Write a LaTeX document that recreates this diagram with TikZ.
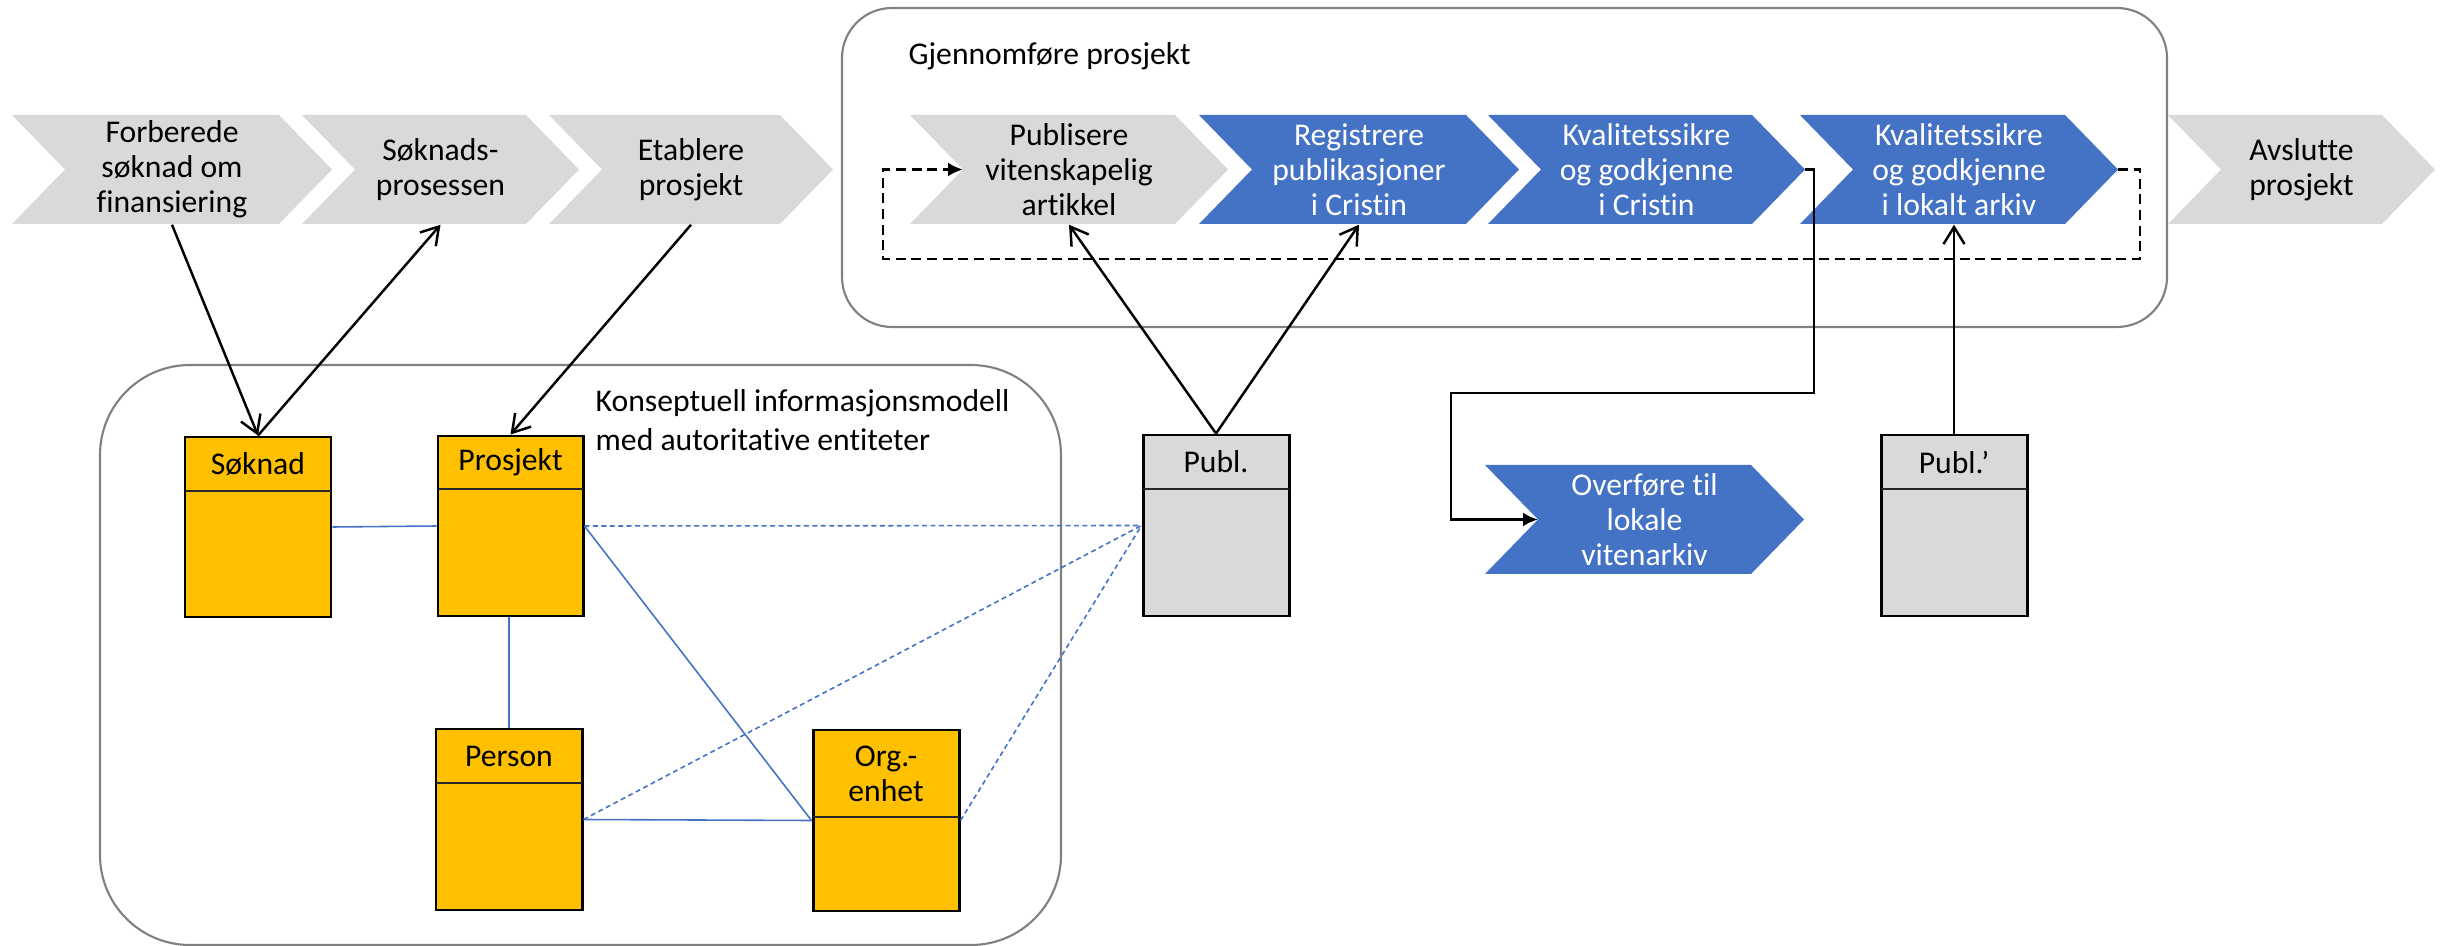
\documentclass[tikz,border=0pt]{standalone}
\usepackage{fontspec}
\setmainfont{Carlito}[Ligatures=NoCommon]
\usetikzlibrary{arrows.meta,fit,calc}
\definecolor{cgray}{HTML}{D9D9D9}
\definecolor{cblue}{HTML}{4472C4}
\definecolor{corange}{HTML}{FFC000}
\definecolor{cframe}{HTML}{808080}
\tikzset{
 lbl/.style={font=\fontsize{9}{10}\selectfont, align=center, inner sep=0pt},
 ebox/.style={draw=black, line width=0.85pt, inner sep=0pt},
 divline/.style={draw=black!85, line width=0.45pt},
 grp/.style={draw=cframe, line width=0.6pt, inner sep=0pt},
 conn/.style={draw=black, line width=0.7pt, -{Straight Barb[length=0.17cm,width=0.21cm]}},
 rel/.style={draw=cblue, line width=0.45pt},
 reld/.style={rel, dash pattern=on 1.4pt off 1pt},
 flow/.style={draw=black, line width=0.75pt, -{Latex[length=0.15cm,width=0.14cm]}},
 flowd/.style={flow, dash pattern=on 2.85pt off 1.6pt},
}
% chevron: name, left x, tip x, centre y, fill, text colour, text
\newcommand\chev[7]{%
  \fill[#5] (#2,#4-54.5) -- (#3-53,#4-54.5) -- (#3,#4) -- (#3-53,#4+54.5) -- (#2,#4+54.5) -- (#2+53,#4) -- cycle;
  \coordinate (#1-tip) at (#3,#4);
  \coordinate (#1-notch) at (#2+53,#4);
  \node[lbl, text=#6, minimum height=1.09cm] (#1) at ({(#2+#3)/2},#4) {#7};
}
% entity: name, x1, y1, x2, y2, divider y, fill, text
\newcommand\entity[8]{%
  \node[ebox, fill=#7, fit={(#2,#3) (#4,#5)}] (#1) {};
  \draw[divline] (#2,#6) -- (#4,#6);
  \node[lbl] (#1-t) at ({(#2+#4)/2},{(#3+#6)/2}) {#8};
}
\begin{document}
\begin{tikzpicture}[x=0.01cm,y=-0.01cm]
\useasboundingbox (0,0) rectangle (2448,946);
% group boxes
\node[grp, rounded corners=0.5cm, fit={(842,8) (2167,327)}] (gbox) {};
\node[grp, rounded corners=0.9cm, fit={(100,365) (1061,945)}] (kbox) {};
\node[lbl, anchor=west] (gtitle) at (908,56) {Gjennomføre prosjekt};
\node[lbl, anchor=west, align=left, font=\fontsize{9}{11.1}\selectfont] (ktitle) at (595,420) {Konseptuell informasjonsmodell\\med autoritative entiteter};
% chevrons
\chev{f}{12}{332}{169.5}{cgray}{black}{Forberede\\søknad om\\finansiering}
\chev{sp}{302}{579}{169.5}{cgray}{black}{Søknads-\\prosessen}
\chev{et}{549}{833}{169.5}{cgray}{black}{Etablere\\prosjekt}
\chev{pub}{910}{1228}{169.5}{cgray}{black}{Publisere\\vitenskapelig\\artikkel}
\chev{reg}{1199}{1519}{169.5}{cblue}{white}{Registrere\\publikasjoner\\i Cristin}
\chev{k1}{1488}{1805}{169.5}{cblue}{white}{Kvalitetssikre\\og godkjenne\\i Cristin}
\chev{k2}{1800}{2118}{169.5}{cblue}{white}{Kvalitetssikre\\og godkjenne\\i lokalt arkiv}
\chev{av}{2168}{2435}{169.5}{cgray}{black}{Avslutte\\prosjekt}
\chev{ov}{1485}{1804}{519.5}{cblue}{white}{Overføre til\\lokale\\vitenarkiv}
% entities
\entity{soknad}{185}{437}{331}{617}{491}{corange}{Søknad}
\entity{prosjekt}{438}{436}{583}{616}{489}{corange}{Prosjekt}
\entity{person}{436}{729}{582}{910}{783}{corange}{Person}
\entity{org}{813}{730}{959}{911}{817}{corange}{Org.-\\enhet}
\entity{publ}{1143}{435}{1289}{616}{489}{cgray}{Publ.}
\entity{publ2}{1881}{435}{2027}{616}{489}{cgray}{Publ.’}
% relations
\draw[rel] (soknad.east) -- (prosjekt.west);
\draw[reld] (prosjekt.east) -- (publ.west);
\draw[rel] (prosjekt.east) -- (org.west);
\draw[rel] (person.north |- prosjekt.south) -- (person.north);
\draw[rel] (person.east) -- (org.west);
\draw[reld] (person.east) -- (publ.west);
\draw[reld] (org.east) -- (publ.west);
% connectors
\draw[conn] (f.south) -- (soknad.north);
\draw[conn] (soknad.north) -- (sp.south);
\draw[conn] (et.south) -- (prosjekt.north);
\draw[conn] (publ.north) -- (pub.south);
\draw[conn] (publ.north) -- (reg.south);
\draw[conn] (publ2.north) -- (publ2.north |- k2.south);
% flows
\coordinate (c1) at (1814,393);
\coordinate (c2) at (1451,393);
\draw[flow] (k1-tip) -| (c1) -- (c2) |- (ov-notch);
\coordinate (d1) at (2140,259);
\coordinate (d2) at (883,259);
\draw[flowd] (k2-tip) -| (d1) -- (d2) |- (pub-notch);
\end{tikzpicture}
\end{document}
